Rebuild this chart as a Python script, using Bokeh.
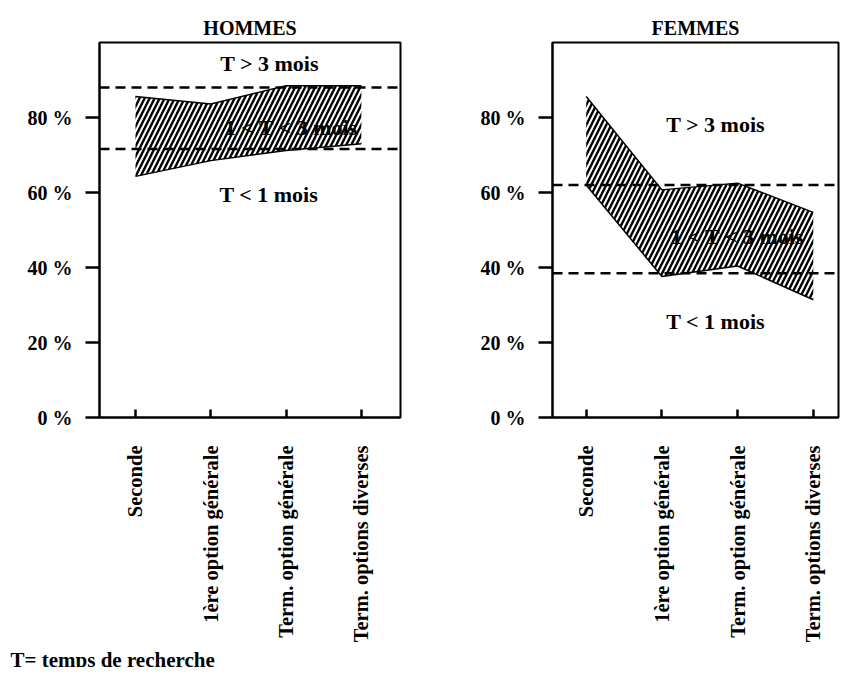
import math
from bokeh.plotting import figure
from bokeh.layouts import row
from bokeh.models import Range1d, FixedTicker, Span, Title
from bokeh.core.properties import value
from bokeh.embed import file_html
from bokeh.resources import INLINE

# ---- data ----
categories = ["Seconde", "1ère option générale", "Term. option générale", "Term. options diverses"]
y_ticks = [0, 20, 40, 60, 80]
y_tick_labels = ["0 %", "20 %", "40 %", "60 %", "80 %"]

hommes_moins_1_mois = [64.3, 68.5, 71.2, 73.0]
hommes_moins_3_mois = [85.6, 83.6, 88.5, 88.5]
hommes_moyennes = [71.6, 88.0]

femmes_moins_1_mois = [62.0, 37.6, 40.4, 31.4]
femmes_moins_3_mois = [85.6, 60.7, 62.5, 54.7]
femmes_moyennes = [38.5, 62.0]

zone_labels = ["T > 3 mois", "1 < T < 3 mois", "T < 1 mois"]
hommes_label_x = [1.78, 2.07, 1.77]
hommes_label_y = [94.3, 77.4, 59.4]
femmes_label_x = [1.71, 2.0, 1.71]
femmes_label_y = [78.1, 48.3, 25.6]

note = "T= temps de recherche"

FONT = "Liberation Serif"


def panel(title, low, high, moys, lx, ly, xr, frame_width, mb_left, mb_right, mb_top, mb_bottom):
    xs = list(range(len(categories)))
    p = figure(frame_width=frame_width, frame_height=375,
               x_range=Range1d(*xr), y_range=Range1d(0, 100),
               output_backend="svg", toolbar_location=None,
               min_border_left=mb_left, min_border_right=mb_right,
               min_border_top=mb_top, min_border_bottom=mb_bottom)
    p.title.text = title
    p.title.align = "center"
    p.title.text_font = FONT
    p.title.text_font_size = "20px"
    p.title.text_font_style = "bold"
    p.title.text_color = "black"
    p.title.standoff = 8
    p.xgrid.visible = False
    p.ygrid.visible = False
    p.outline_line_color = "black"
    p.outline_line_width = 2
    p.background_fill_color = "white"
    p.border_fill_color = "white"

    ya = p.yaxis[0]
    ya.ticker = FixedTicker(ticks=y_ticks)
    ya.major_label_overrides = {t: s for t, s in zip(y_ticks, y_tick_labels)}
    ya.minor_tick_line_color = None
    ya.major_tick_in = 0
    ya.major_tick_out = 14
    ya.major_tick_line_width = 2.5
    ya.major_tick_line_color = "black"
    ya.axis_line_width = 2
    ya.axis_line_color = "black"
    ya.major_label_standoff = 13
    ya.major_label_text_font = FONT
    ya.major_label_text_font_size = "20px"
    ya.major_label_text_font_style = "bold"
    ya.major_label_text_color = "black"

    xa = p.xaxis[0]
    xa.ticker = FixedTicker(ticks=xs)
    xa.major_label_overrides = {i: c for i, c in zip(xs, categories)}
    xa.minor_tick_line_color = None
    xa.major_tick_in = 8
    xa.major_tick_out = 0
    xa.major_tick_line_width = 2.5
    xa.major_tick_line_color = "black"
    xa.axis_line_width = 2
    xa.axis_line_color = "black"
    xa.major_label_orientation = math.pi / 2
    xa.major_label_standoff = 28
    xa.major_label_text_font = FONT
    xa.major_label_text_font_size = "20.5px"
    xa.major_label_text_font_style = "bold"
    xa.major_label_text_color = "black"

    p.varea(x=xs, y1=low, y2=high, fill_alpha=0, hatch_pattern="/",
            hatch_color="black", hatch_weight=2.4, hatch_scale=10)
    p.line(xs, low, line_color="black", line_width=1.5)
    p.line(xs, high, line_color="black", line_width=1.5)

    for m in moys:
        p.add_layout(Span(location=m, dimension="width", line_color="black",
                          line_width=2.5, line_dash="10 6"))

    p.text(x=lx, y=ly, text=zone_labels, text_font=value(FONT),
           text_font_size="22px", text_font_style="bold", text_color="black",
           text_align="center", text_baseline="middle")
    return p


p1 = panel("HOMMES", hommes_moins_1_mois, hommes_moins_3_mois, hommes_moyennes,
           hommes_label_x, hommes_label_y, (-0.478, 3.52), 301, 99, 70, 38, 0)
p1.add_layout(Title(text=note, align="left", offset=-89, standoff=0,
                    text_font=FONT, text_font_size="21px", text_font_style="bold",
                    text_color="black"), "below")

p2 = panel("FEMMES", femmes_moins_1_mois, femmes_moins_3_mois, femmes_moyennes,
           femmes_label_x, femmes_label_y, (-0.445, 3.333), 286, 82, 2, 42, 200)

layout = row(p1, p2)
open("out.html", "w").write(file_html(layout, INLINE))
